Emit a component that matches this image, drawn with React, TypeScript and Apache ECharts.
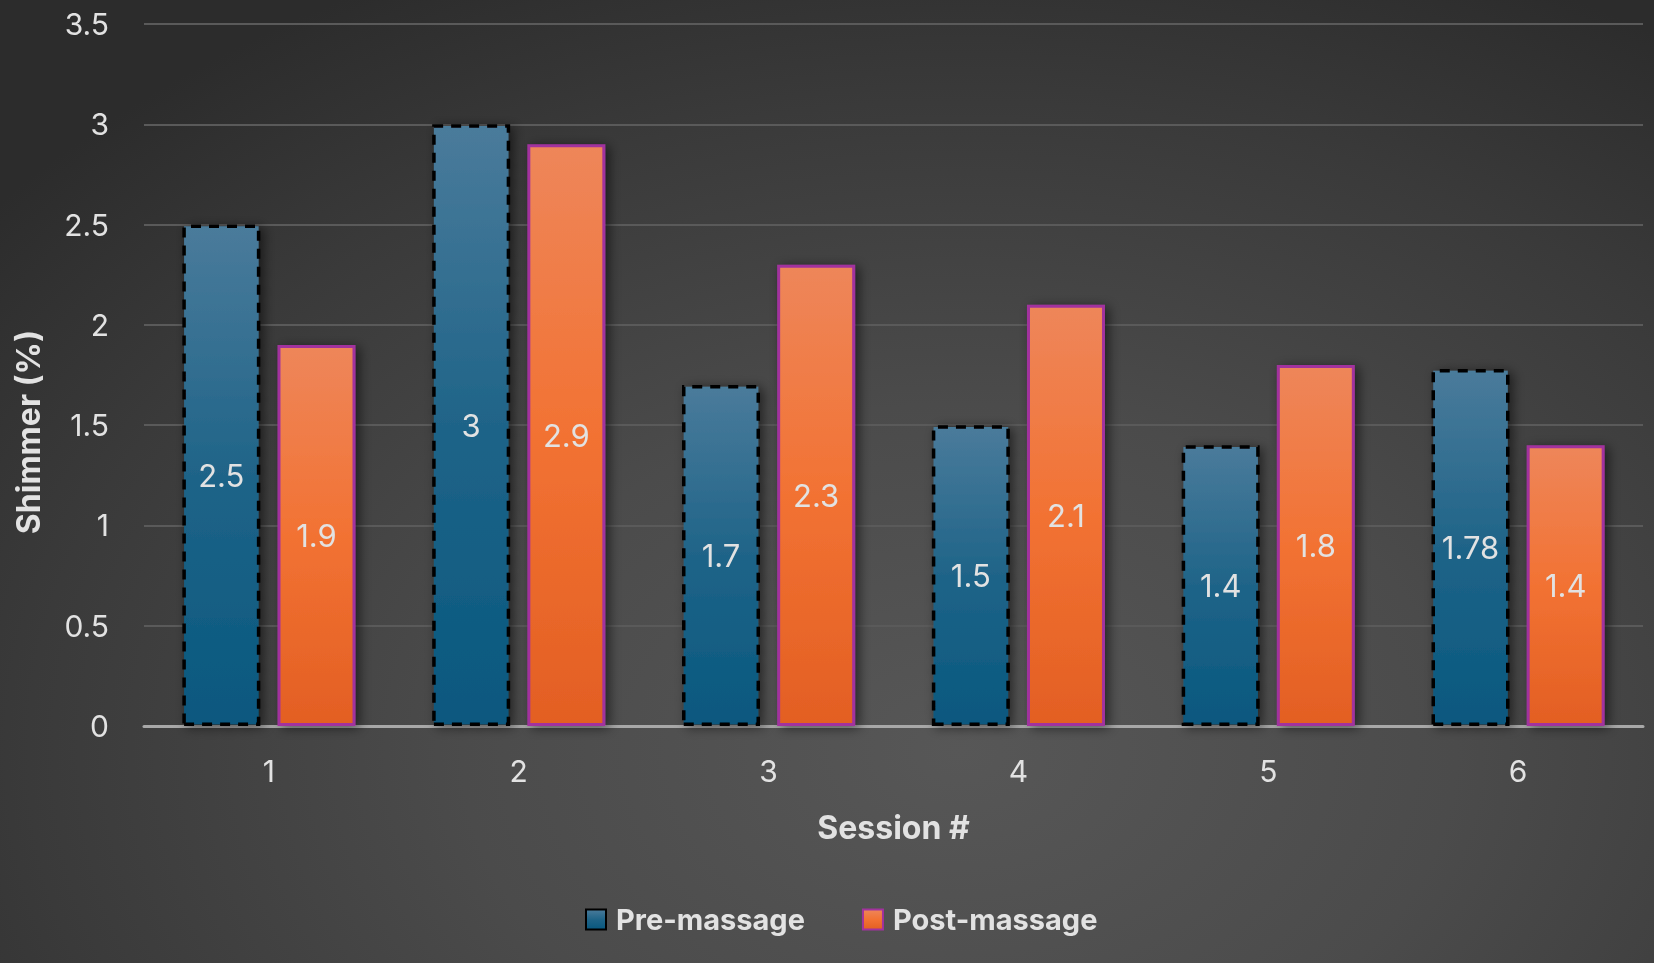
import React, { useEffect, useRef } from "react";
import * as echarts from "echarts";

const categories = ["1", "2", "3", "4", "5", "6"];
const preMassage = [2.5, 3, 1.7, 1.5, 1.4, 1.78];
const postMassage = [1.9, 2.9, 2.3, 2.1, 1.8, 1.4];
const seriesNames = ["Pre-massage", "Post-massage"];
const xTitle = "Session #";
const yTitle = "Shimmer (%)";

const FONT = "Inter, 'Noto Sans', 'DejaVu Sans', sans-serif";
const TXT = "#e2e2e2";

export default function App() {
  const ref = useRef<HTMLDivElement>(null);
  useEffect(() => {
    if (!ref.current) return;
    const chart = echarts.init(ref.current, undefined, { renderer: "svg" });
    const shadow = {
      shadowColor: "rgba(0,0,0,0.55)",
      shadowBlur: 12,
      shadowOffsetX: 4,
      shadowOffsetY: 2,
    };
    const label = {
      show: true,
      position: "inside",
      color: TXT,
      fontSize: 31,
      fontFamily: FONT,
      formatter: (p: any) => String(p.value),
    };
    chart.setOption({
      animation: false,
      backgroundColor: "transparent",
      textStyle: { fontFamily: FONT },
      grid: { left: 144, right: 11, top: 24, bottom: 237, containLabel: false },
      legend: {
        data: seriesNames,
        icon: "rect",
        left: 585,
        top: 905,
        padding: 0,
        itemWidth: 20,
        itemHeight: 20,
        itemGap: 57,
        textStyle: {
          color: TXT,
          fontSize: 29,
          fontWeight: "bold",
          fontFamily: FONT,
          padding: [0, 0, 0, 5],
        },
      },
      xAxis: {
        type: "category",
        data: categories,
        name: xTitle,
        nameLocation: "middle",
        nameGap: 85,
        nameTextStyle: { color: TXT, fontSize: 32, fontWeight: "bold", fontFamily: FONT },
        axisLine: { show: true, lineStyle: { color: "#a8a8a8", width: 3 } },
        axisTick: { show: false },
        axisLabel: { color: TXT, fontSize: 30, margin: 30, fontFamily: FONT },
      },
      yAxis: {
        type: "value",
        min: 0,
        max: 3.5,
        interval: 0.5,
        axisLine: { show: false },
        axisTick: { show: false },
        axisLabel: { color: TXT, fontSize: 30, margin: 35, fontFamily: FONT },
        splitLine: { lineStyle: { color: "#5a5a5a", width: 2 } },
      },
      graphic: [
        {
          type: "text",
          x: 28,
          y: 432,
          rotation: Math.PI / 2,
          style: {
            text: yTitle,
            fill: TXT,
            font: `bold 32px ${FONT}`,
            align: "center",
            verticalAlign: "middle",
          },
        },
      ],
      series: [
        {
          name: seriesNames[0],
          type: "bar",
          data: preMassage,
          barWidth: 78,
          barGap: "22%",
          label,
          itemStyle: {
            color: new echarts.graphic.LinearGradient(0, 0, 0, 1, [
              { offset: 0, color: "#4a7b9b" },
              { offset: 0.5, color: "#1f6488" },
              { offset: 1, color: "#08587f" },
            ]),
            borderColor: "#000000",
            borderWidth: 3.5,
            borderType: [10, 8],
            ...shadow,
          },
        },
        {
          name: seriesNames[1],
          type: "bar",
          data: postMassage,
          barWidth: 78,
          label,
          itemStyle: {
            color: new echarts.graphic.LinearGradient(0, 0, 0, 1, [
              { offset: 0, color: "#ee865a" },
              { offset: 0.5, color: "#f27233" },
              { offset: 1, color: "#e35f23" },
            ]),
            borderColor: "#a2329e",
            borderWidth: 3,
            ...shadow,
          },
        },
      ],
    });
    return () => chart.dispose();
  }, []);
  return (
    <div
      ref={ref}
      style={{
        position: "fixed",
        left: 0,
        top: 0,
        width: 1654,
        height: 963,
        background:
          "radial-gradient(ellipse 75% 90% at 58% 78%, #575757 0%, #4b4b4b 40%, #3a3a3a 75%, #2c2c2c 100%)",
      }}
    />
  );
}
